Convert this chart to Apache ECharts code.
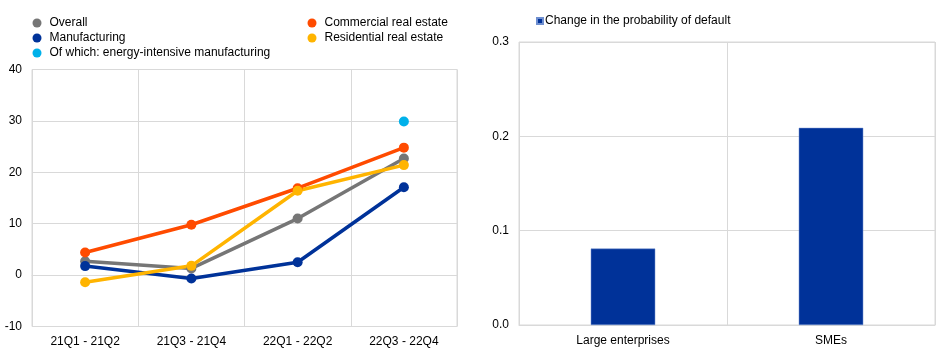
<!DOCTYPE html>
<html>
<head>
<meta charset="utf-8">
<script src="https://cdn.jsdelivr.net/npm/echarts@6/dist/echarts.min.js"></script>
<style>
    html, body {margin: 0; padding: 0; background: #fff;}
    #chart {width: 945px; height: 354px;}
</style>
</head>
<body>
<div id="chart"></div>
<script>
const periods = ['21Q1 - 21Q2', '21Q3 - 21Q4', '22Q1 - 22Q2', '22Q3 - 22Q4'];
const overall = [2.7, 1.3, 11.0, 22.7];
const manufacturing = [1.75, -0.65, 2.5, 17.1];
const commercialRE = [4.4, 9.8, 16.9, 24.8];
const residentialRE = [-1.4, 1.8, 16.4, 21.4];
const energyIntensive = [null, null, null, 29.9];

const firmSizes = ['Large enterprises', 'SMEs'];
const pdChange = [0.081, 0.209];

const font = 'Arial, "Liberation Sans", sans-serif';
const gridColor = '#d9d9d9';
const textColor = '#000';

function lineSeries(name, data, color) {
    return {
        name,
        type: 'line',
        xAxisIndex: 0,
        yAxisIndex: 0,
        data,
        color,
        symbol: 'circle',
        symbolSize: 10,
        lineStyle: {width: 3.5, color},
        itemStyle: {color},
        emphasis: {disabled: true},
        animation: false,
    };
}

const chart = echarts.init(document.getElementById('chart'), null, {renderer: 'canvas'});

const legendText = {color: textColor, fontFamily: font, fontSize: 12, padding: [0, 0, 0, 3]};

chart.setOption({
    animation: false,
    textStyle: {fontFamily: font},
    legend: [{
        data: ['Overall', 'Manufacturing', 'Of which: energy-intensive manufacturing'],
        orient: 'vertical',
        left: 27.5,
        top: 12,
        itemGap: 3,
        itemWidth: 9,
        itemHeight: 9,
        icon: 'circle',
        textStyle: legendText,
        selectedMode: false,
    }, {
        data: ['Commercial real estate', 'Residential real estate'],
        orient: 'vertical',
        left: 302.5,
        top: 12,
        itemGap: 3,
        itemWidth: 9,
        itemHeight: 9,
        icon: 'circle',
        textStyle: legendText,
        selectedMode: false,
    }, {
        data: ['Change in the probability of default'],
        left: 531,
        top: 10,
        itemWidth: 6,
        itemHeight: 6,
        icon: 'rect',
        textStyle: {...legendText, padding: [0, 0, 0, -3]},
        selectedMode: false,
    }],
    grid: [{
        left: 32, right: 488, top: 69.5, bottom: 27.5,
        show: true, borderColor: gridColor, borderWidth: 1,
    }, {
        left: 519, right: 10, top: 42, bottom: 29,
        show: true, borderColor: gridColor, borderWidth: 1,
    }],
    xAxis: [{
        gridIndex: 0,
        type: 'category',
        data: periods,
        boundaryGap: true,
        axisLine: {lineStyle: {color: gridColor}},
        axisTick: {show: false},
        axisLabel: {color: textColor, fontSize: 12, margin: 9},
        splitLine: {show: true, lineStyle: {color: gridColor}},
    }, {
        gridIndex: 1,
        type: 'category',
        data: firmSizes,
        boundaryGap: true,
        axisLine: {lineStyle: {color: gridColor}},
        axisTick: {show: false},
        axisLabel: {color: textColor, fontSize: 12, margin: 10},
        splitLine: {show: true, lineStyle: {color: gridColor}},
    }],
    yAxis: [{
        gridIndex: 0,
        type: 'value',
        min: -10, max: 40, interval: 10,
        axisLine: {show: false},
        axisTick: {show: false},
        axisLabel: {color: textColor, fontSize: 12, margin: 10},
        splitLine: {lineStyle: {color: gridColor}},
    }, {
        gridIndex: 1,
        type: 'value',
        min: 0, max: 0.3, interval: 0.1,
        axisLine: {show: false},
        axisTick: {show: false},
        axisLabel: {color: textColor, fontSize: 12, margin: 10, formatter: v => v.toFixed(1)},
        splitLine: {lineStyle: {color: gridColor}},
    }],
    series: [
        lineSeries('Overall', overall, '#767676'),
        lineSeries('Commercial real estate', commercialRE, '#ff4b00'),
        lineSeries('Manufacturing', manufacturing, '#003299'),
        lineSeries('Residential real estate', residentialRE, '#ffb400'),
        lineSeries('Of which: energy-intensive manufacturing', energyIntensive, '#00b1ea'),
        {
            name: 'Change in the probability of default',
            type: 'bar',
            xAxisIndex: 1,
            yAxisIndex: 1,
            data: pdChange,
            barWidth: '31%',
            itemStyle: {color: '#003299', borderColor: '#6f8fd0', borderWidth: 0.5},
            emphasis: {disabled: true},
        },
    ],
});
</script>
</body>
</html>
